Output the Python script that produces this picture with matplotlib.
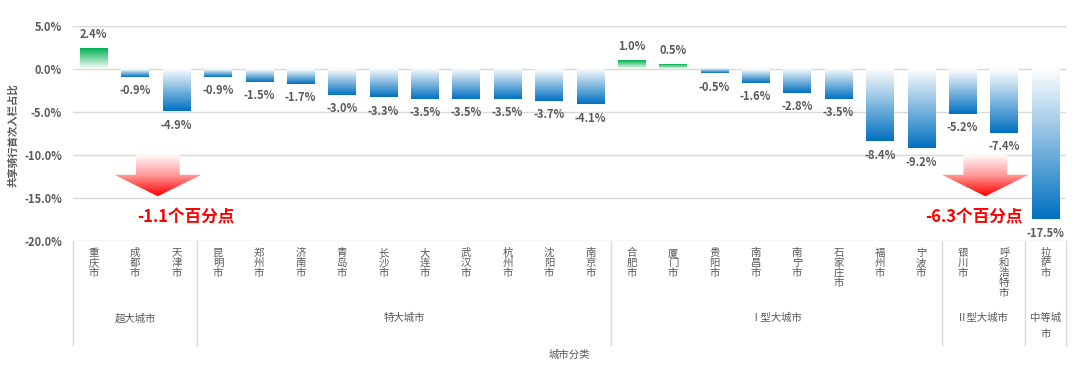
import numpy as np
import matplotlib
matplotlib.use("Agg")
import matplotlib.pyplot as plt
from matplotlib.colors import LinearSegmentedColormap
from matplotlib.patches import Polygon

plt.rcParams['font.family'] = ['Noto Sans CJK SC', 'DejaVu Sans']

cities = ["重庆市", "成都市", "天津市",
          "昆明市", "郑州市", "济南市", "青岛市", "长沙市", "大连市", "武汉市", "杭州市", "沈阳市", "南京市",
          "合肥市", "厦门市", "贵阳市", "南昌市", "南宁市", "石家庄市", "福州市", "宁波市",
          "银川市", "呼和浩特市",
          "拉萨市"]
values = [2.4, -0.9, -4.9,
          -0.9, -1.5, -1.7, -3.0, -3.3, -3.5, -3.5, -3.5, -3.7, -4.1,
          1.0, 0.5, -0.5, -1.6, -2.8, -3.5, -8.4, -9.2,
          -5.2, -7.4,
          -17.5]
groups = ["超大城市", "特大城市", "Ⅰ型大城市", "Ⅱ型大城市", "中等城\n市"]
group_sizes = [3, 10, 8, 2, 1]
# group change annotations: label, first and last city index of the group
note_labels = ["-1.1个百分点", "-6.3个百分点"]
note_spans = [(1, 2), (21, 22)]
note_text_shift = [0.68, -0.27]

gray = "#595959"
grid_c = "#D9D9D9"

fig = plt.figure(figsize=(10.8, 3.73), dpi=100)
ax = fig.add_axes([73 / 1080, 1 - 241 / 373, (1066 - 73) / 1080, 215 / 373])

x = np.arange(len(cities))
bars = ax.bar(x, values, width=0.66, color="none", zorder=3)

blue_cm = LinearSegmentedColormap.from_list("b", ["#FFFFFF", "#0070C0"])
green_cm = LinearSegmentedColormap.from_list("g", ["#FFFFFF", "#00B050"])
grad = np.linspace(0, 1, 256).reshape(-1, 1)
for b, v in zip(bars, values):
    x0, w = b.get_x(), b.get_width()
    cm = green_cm if v > 0 else blue_cm
    img = grad if v > 0 else grad[::-1]
    ax.imshow(img, cmap=cm, extent=[x0, x0 + w, min(0, v), max(0, v)],
              origin="lower", aspect="auto", zorder=3, vmin=0, vmax=1)
    ax.annotate(f"{v:.1f}%", (b.get_x() + w / 2, v),
                xytext=(0, 10 if v > 0 else -10), textcoords="offset points",
                ha="center", va="center", fontsize=8, fontweight="bold", color=gray)

# red arrows
red_cm = LinearSegmentedColormap.from_list("r", ["#FFFFFF", "#FF9999", "#FF0000"])
for label, (i0, i1), dx in zip(note_labels, note_spans, note_text_shift):
    cx = (i0 + i1) / 2 + 0.05
    verts = [(cx - 0.53, -10), (cx + 0.53, -10), (cx + 0.53, -12.3), (cx + 1.05, -12.3),
             (cx, -14.8), (cx - 1.05, -12.3), (cx - 0.53, -12.3)]
    poly = Polygon(verts, closed=True, facecolor="none", edgecolor="none")
    ax.add_patch(poly)
    im = ax.imshow(grad[::-1], cmap=red_cm, extent=[cx - 1.05, cx + 1.05, -14.8, -10],
                   origin="lower", aspect="auto", zorder=4)
    im.set_clip_path(poly)
    ax.text(cx + dx, -17.2, label, ha="center", va="center", fontsize=12,
            fontweight="bold", color="#FF0000", zorder=5)

ax.set_xlim(-0.5, len(cities) - 0.5)
ax.set_ylim(-20, 5)
ax.set_aspect("auto")

yt = np.arange(-20, 5.1, 5)
ax.set_yticks(yt)
ax.set_yticklabels([f"{v:.1f}%" for v in yt], fontsize=8, fontweight="bold", color=gray)
ax.yaxis.grid(True, color=grid_c, lw=1)
ax.set_axisbelow(True)
ax.tick_params(axis="y", length=0, pad=8)

ax.set_xticks(x)
ax.set_xticklabels(["\n".join(c) for c in cities], fontsize=7.5, color=gray, linespacing=1.0)
ax.tick_params(axis="x", length=0, pad=5)

for s in ax.spines.values():
    s.set_visible(False)

# group separators and names
trans = ax.get_xaxis_transform()
edges = np.concatenate([[0], np.cumsum(group_sizes)]) - 0.5
for e in edges:
    ax.plot([e, e], [0, -0.484], transform=trans, color=grid_c, lw=1, clip_on=False)
for g, a, b in zip(groups, edges[:-1], edges[1:]):
    ax.text((a + b) / 2, -0.335, g, transform=trans, ha="center", va="top",
            fontsize=7.5, color=gray, linespacing=1.75)

ax.text(0.5, -0.53, "城市分类", transform=ax.transAxes, ha="center", va="center",
        fontsize=7.5, color=gray)
fig.text(13 / 1080, 1 - 135 / 373, "共享骑行首次入栏占比", rotation=90, ha="center",
         va="center", fontsize=7.5, fontweight="bold", color=gray)

fig.savefig("out.png", dpi=100)
